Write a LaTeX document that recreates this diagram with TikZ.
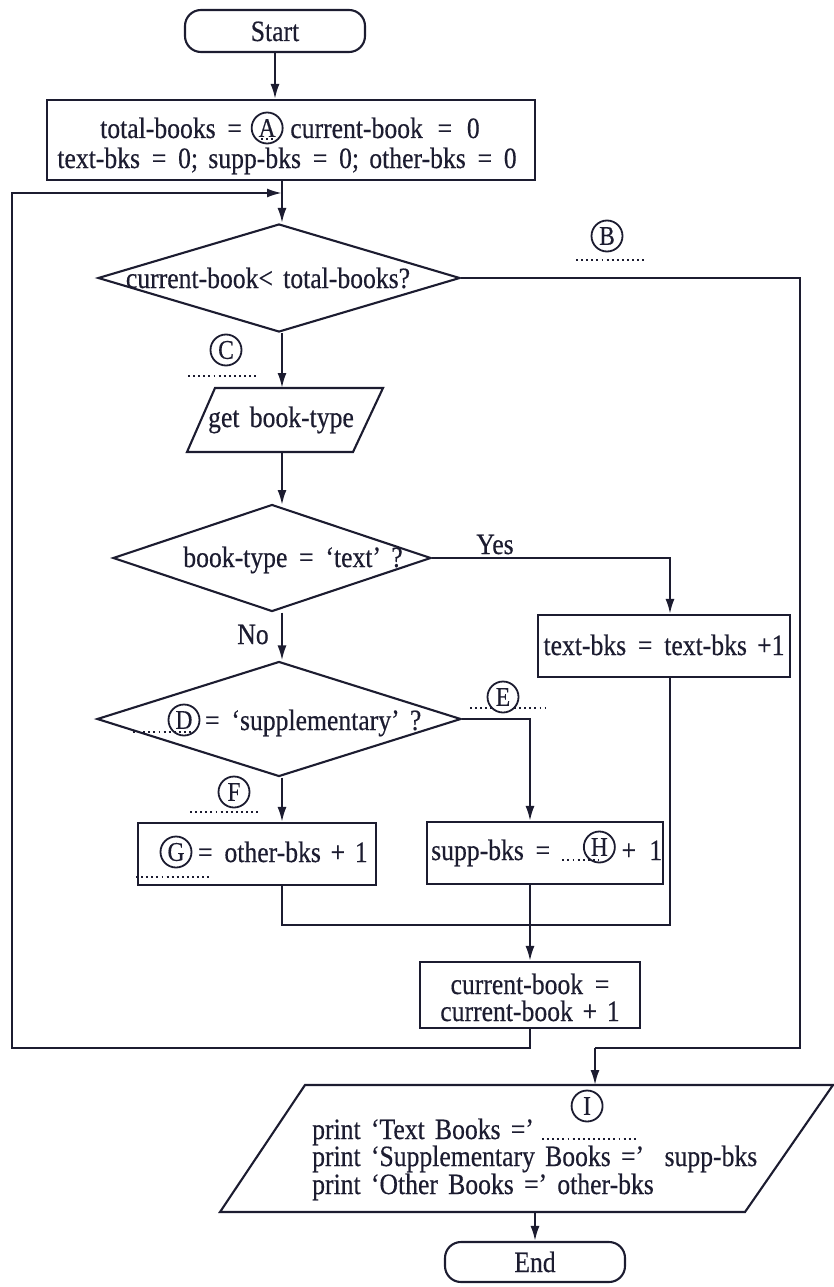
\documentclass[tikz,border=0pt]{standalone}
\usepackage{fontspec}
\setmainfont{Liberation Serif}[FakeStretch=0.87, WordSpace=1.6, FakeBold=0.4]
\usetikzlibrary{shapes.geometric,arrows.meta,calc}
\definecolor{ink}{RGB}{28,28,48}
\newcommand\Eq{\hspace{0.40em}=\hspace{0.40em}}
\newcommand\Pl{\hspace{0.33em}+\hspace{0.33em}}
\begin{document}
\begin{tikzpicture}[x=1pt,y=-1pt,
  every node/.style={font=\fontsize{29.5}{33}\selectfont, text=ink},
  ln/.style={line width=2.1pt, draw=ink},
  arr/.style={ln, -{Latex[length=15pt,width=9pt]}},
  box/.style={draw=ink, line width=2.1pt, rectangle, inner sep=0pt},
  term/.style={box, rounded corners=16pt},
  dia/.style={draw=ink, line width=2.1pt, diamond, inner sep=0pt},
  lbl/.style={circle, draw=ink, line width=1.8pt, inner sep=0pt, minimum size=31pt, font=\fontsize{27}{30}\selectfont},
  dots/.style={draw=ink, line width=1.9pt, dash pattern=on 1.9pt off 3.2pt},
  tb/.style={inner sep=0pt, anchor=base},
  tw/.style={inner sep=0pt, anchor=base west},
  te/.style={inner sep=0pt, anchor=base east}
]
\useasboundingbox (0,0) rectangle (833,1287);
\fill[white] (0,0) rectangle (833,1287);

% Start
\node[term, minimum width=180pt, minimum height=42pt] (start) at (275,31) {};
\node[tb] (starttxt) at (275,41) {Start};

% init box
\node[box, minimum width=488pt, minimum height=80pt] (init) at (291,140) {};
\node[tw] (i1a) at (100,138) {total-books\hspace{0.4em}=};
\node[lbl] (A) at ($(i1a.base east)+(25,-10)$) {A};
\draw[dots] ($(A.center)+(-6,11)$) -- ++(12,0);
\node[tw] (i1b) at ($(i1a.base east)+(48,0)$) {current-book\hspace{0.5em}=\hspace{0.5em}0};
\node[tb] (i2) at (287,168) {text-bks\Eq 0; supp-bks\Eq 0; other-bks\Eq 0};

% decision 1
\node[dia, minimum width=362pt, minimum height=108pt] (d1) at (279,278) {};
\node[tb] (d1t) at (268,288) {current-book< total-books?};
\node[lbl] (B) at (607,236) {B};
\draw[dots] (576,260) -- (645,260);
\node[lbl] (C) at (226,350) {C};
\draw[dots] (188,376) -- (256,376);

% get book-type
\coordinate (gtl) at (215,388);
\coordinate (gtr) at (383,388);
\coordinate (gbr) at (353,452);
\coordinate (gbl) at (187,452);
\draw[ln] (gtl) -- (gtr) -- (gbr) -- (gbl) -- cycle;
\coordinate (gtop) at (282,388);
\coordinate (gbot) at (282,452);
\node[tb] (gbt) at (281,427) {get book-type};

% decision 2
\node[dia, minimum width=318pt, minimum height=107pt] (d2) at (272,558) {};
\coordinate (d2top) at (282,505);
\node[tb] (d2t) at (293,567) {book-type\Eq‘text’ ?};
\node[tb] (yes) at (495,554) {Yes};
\node[tb] (no) at (253,644) {No};

% text-bks box
\coordinate (tx) at (670,0);
\node[box, minimum width=252pt, minimum height=62pt] (tbk) at (664,646) {};
\node[tb] (tbkt) at (664,655) {text-bks\Eq text-bks +1};

% decision 3
\node[dia, minimum width=364pt, minimum height=115pt] (d3) at (279,719) {};
\node[lbl] (D) at (184,720) {D};
\draw[dots] (133,732) -- (192,732);
\node[tw] (d3t) at ($(D.center)+(21,10)$) {=\hspace{0.40em}‘supplementary’\ ?};
\node[lbl] (E) at (503,697) {E};
\draw[dots] (470,708) -- (492,708);
\draw[dots] (514,708) -- (545,708);

\node[lbl] (F) at (234,792) {F};
\draw[dots] (190,812) -- (258,812);

% G box
\node[box, minimum width=238pt, minimum height=62pt] (gbox) at (257,854) {};
\node[lbl] (G) at (176,852) {G};
\node[tw] (gt) at ($(G.center)+(22,10)$) {=\hspace{0.40em}other-bks\Pl 1};
\draw[dots] (136,877) -- (210,877);

% supp box
\node[box, minimum width=236pt, minimum height=62pt] (sbox) at (545,853) {};
\node[tw] (st) at (431,860) {supp-bks\hspace{0.4em}=};
\draw[dots] ($(st.base east)+(12,0)$) -- ++(36,0);
\node[lbl] (H) at ($(st.base east)+(49,-13)$) {H};
\node[tw] (st2) at ($(H.center)+(22,13)$) {+\hspace{0.45em}1};

% current-book box
\node[box, minimum width=220pt, minimum height=66pt] (cb) at (530,995) {};
\node[tb] (cb1) at (530,994) {current-book\hspace{0.4em}=};
\node[tb] (cb2) at (530,1021) {current-book\Pl 1};

% output parallelogram
\coordinate (otl) at (305,1085);
\coordinate (otr) at (833,1085);
\coordinate (obr) at (745,1212);
\coordinate (obl) at (220,1212);
\draw[ln] (otl) -- (otr) -- (obr) -- (obl) -- cycle;
\coordinate (otop) at (595,1085);
\coordinate (obot) at (535,1212);
\node[tw] (p1) at (312,1139) {print ‘Text Books =’};
\draw[dots] ($(p1.base east)+(8,0)$) -- ++(95,0);
\node[lbl] (I) at ($(p1.base east)+(53,-33)$) {I};
\node[tw] (p2) at (312,1166) {print ‘Supplementary Books =’\ \ supp-bks};
\node[tw] (p3) at (312,1194) {print ‘Other Books =’ other-bks};

% End
\node[term, minimum width=180pt, minimum height=40pt] (end) at (535,1262) {};
\node[tb] (endt) at (535,1272) {End};

% connectors
\draw[arr] (start.south) -- (start.south |- init.north);
\draw[arr] (d2top |- init.south) -- (d1.north -| d2top);
\coordinate (loopin) at (282,193);
\coordinate (lb) at (12,1048);
\draw[arr] (cb.south) |- (lb) |- (loopin);
\coordinate (rc) at (800,1048);
\draw[ln] (d1.east) -| (rc) -- (otop |- rc);
\draw[arr] (otop |- rc) -- (otop);
\draw[arr] (d1.south -| gtop) -- (gtop);
\draw[arr] (gbot) -- (d2top);
\draw[arr] (d2.east) -| (tbk.north -| tx);
\draw[arr] (d2.south -| d2top) -- (d3.north -| d2top);
\draw[arr] (d3.east) -| (cb.north |- sbox.north);
\draw[arr] (d3.south -| d2top) -- (gbox.north -| d2top);
\coordinate (join) at (670,925);
\draw[ln] (gbox.south -| d2top) |- (join) -- (tbk.south -| tx);
\draw[arr] (cb.north |- sbox.south) -- (cb.north);
\draw[arr] (obot) -- (end.north);
\end{tikzpicture}
\end{document}
